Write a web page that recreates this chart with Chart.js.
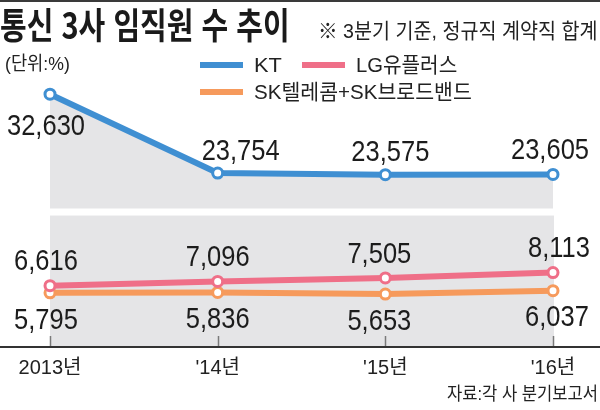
<!DOCTYPE html>
<html lang="ko">
<head>
<meta charset="utf-8">
<title>통신 3사 임직원 수 추이</title>
<script src="https://cdn.jsdelivr.net/npm/chart.js@4.4.1/dist/chart.umd.min.js"></script>
<style>
  html, body { margin: 0; padding: 0; background: #fff; }
  #wrap { position: relative; width: 600px; height: 410px; overflow: hidden;
          font-family: "Liberation Sans", "Noto Sans CJK KR", sans-serif; color: #222; }
  #wrap canvas { position: absolute; left: 0; top: 0; }
  .txt { position: absolute; white-space: nowrap; line-height: 1; }
  #topline { position: absolute; left: 0; top: 0; width: 600px; height: 2px; background: #3a3a3a; }
  #title { left: 0; top: 5px; font-size: 36px; font-weight: bold; color: #1a1a1a;
           font-family: "Noto Sans CJK KR", sans-serif; transform-origin: left top; }
  #note { right: 2px; top: 20px; font-size: 21px; transform-origin: right top; }
  #unit { left: 5px; top: 54px; font-size: 19px; transform-origin: left top; }
  #source { right: 2px; top: 385px; font-size: 18px; transform-origin: right top; }
  .leg { position: absolute; height: 22px; }
  .leg .sw { position: absolute; left: 0; top: 8px; width: 43px; height: 6px; }
  .leg .lb { position: absolute; left: 54px; top: 0; font-size: 21px; line-height: 22px;
             white-space: nowrap; transform-origin: left top; }
</style>
</head>
<body>
<div id="wrap">
  <canvas id="chart" width="600" height="410"></canvas>
  <div id="topline"></div>
  <div id="title" class="txt">통신 3사 임직원 수 추이</div>
  <div id="note" class="txt">※ 3분기 기준, 정규직 계약직 합계</div>
  <div id="unit" class="txt">(단위:%)</div>
  <div id="legend"></div>
  <div id="source" class="txt">자료:각 사 분기보고서</div>
</div>
<script>
// ---------- Datos ----------
const years = ["2013년", "'14년", "'15년", "'16년"];
const seriesNames = ["KT", "LG유플러스", "SK텔레콤+SK브로드밴드"];
const ktStaff = [32630, 23754, 23575, 23605];
const lgStaff = [6616, 7096, 7505, 8113];
const skStaff = [5795, 5836, 5653, 6037];

// ---------- Estilo ----------
const COLORS = ["#3f8fd2", "#ef6f88", "#f69a5c"];
const PANEL_GRAY = "#e5e5e7";
const NUM_FONT = '"Liberation Sans", "Noto Sans CJK KR", sans-serif';

// eje partido: misma escala (~113-115 por px) en los dos tramos
const TOP_MIN = 19763, TOP_MAX = 35357;
const LOW_MIN = -300, LOW_MAX = 15455, LOW_PANEL_TOP = 14650;

// dónde va cada etiqueta de valor (dy respecto al punto, dx de ajuste)
const labelDy = [[30, -24, -24, -26], [-26, -26, -26, -26], [25, 25, 25, 25]];
const labelDx = [[-4, 23, 5, -3], [-4, 0, -6, 6], [-4, 0, -6, 4]];

// ---------- Helpers ----------
function fitWidth(el, target) {
  const w = el.offsetWidth;
  if (w > 0) el.style.transform = "scaleX(" + (target / w) + ")";
}

function buildLegend() {
  const slots = [{ x: 200, y: 54 }, { x: 302, y: 54 }, { x: 200, y: 81 }];
  const widths = [28, 101, 218];
  const box = document.getElementById("legend");
  seriesNames.forEach((name, i) => {
    const item = document.createElement("div");
    item.className = "leg";
    item.style.left = slots[i].x + "px";
    item.style.top = slots[i].y + "px";
    const sw = document.createElement("span");
    sw.className = "sw";
    sw.style.background = COLORS[i];
    const lb = document.createElement("span");
    lb.className = "lb";
    lb.textContent = name;
    item.appendChild(sw);
    item.appendChild(lb);
    box.appendChild(item);
    fitWidth(lb, widths[i]);
  });
}

// ---------- Plugin: paneles, marcas del eje y etiquetas ----------
const brokenAxisDecor = {
  id: "brokenAxisDecor",
  beforeDatasetsDraw(chart) {
    const { ctx, chartArea } = chart;
    const low = chart.scales.yLow;
    const top = low.getPixelForValue(LOW_PANEL_TOP);
    const bottom = low.getPixelForValue(LOW_MIN);
    ctx.save();
    ctx.fillStyle = PANEL_GRAY;
    ctx.fillRect(chartArea.left, top, chartArea.right - chartArea.left + 1, bottom - top);
    // marcas cortas hacia arriba
    const x = chart.scales.x;
    ctx.strokeStyle = "#7a7a7a";
    ctx.lineWidth = 1.5;
    years.forEach((_, i) => {
      const px = Math.round(x.getPixelForValue(i)) + 0.5;
      ctx.beginPath();
      ctx.moveTo(px, chartArea.bottom - 10);
      ctx.lineTo(px, chartArea.bottom);
      ctx.stroke();
    });
    ctx.restore();
  },
  afterDatasetsDraw(chart) {
    const { ctx, chartArea, width } = chart;
    ctx.save();
    // línea base a todo el ancho
    ctx.strokeStyle = "#333";
    ctx.lineWidth = 2;
    ctx.beginPath();
    ctx.moveTo(0, chartArea.bottom + 1);
    ctx.lineTo(width, chartArea.bottom + 1);
    ctx.stroke();

    // etiquetas de valor (Helvetica-ish condensada)
    ctx.fillStyle = "#1c1c1c";
    ctx.font = "30px " + NUM_FONT;
    ctx.textAlign = "center";
    ctx.textBaseline = "alphabetic";
    chart.data.datasets.forEach((ds, d) => {
      const meta = chart.getDatasetMeta(d);
      meta.data.forEach((pt, i) => {
        const txt = ds.data[i].toLocaleString("en-US");
        const cx = pt.x + labelDx[d][i];
        const cy = pt.y + labelDy[d][i];
        ctx.save();
        ctx.translate(cx, cy + 10.8);
        ctx.scale(0.85, 1);
        ctx.fillText(txt, 0, 0);
        ctx.restore();
      });
    });
    ctx.restore();
  },
};

// ---------- Chart ----------
function lineSet(label, data, color, axis, extra) {
  return Object.assign({
    label,
    data,
    yAxisID: axis,
    borderColor: color,
    borderWidth: 6,
    pointRadius: 5,
    pointHoverRadius: 5,
    pointBorderWidth: 3,
    pointBackgroundColor: "#fff",
    pointBorderColor: color,
    tension: 0,
    fill: false,
    clip: false,
  }, extra || {});
}

buildLegend();
fitWidth(document.getElementById("title"), 290);
fitWidth(document.getElementById("note"), 280);
fitWidth(document.getElementById("unit"), 65);
fitWidth(document.getElementById("source"), 151);

new Chart(document.getElementById("chart"), {
  type: "line",
  data: {
    labels: years,
    datasets: [
      lineSet(seriesNames[0], ktStaff, COLORS[0], "yTop", {
        fill: "start",
        backgroundColor: PANEL_GRAY,
      }),
      lineSet(seriesNames[1], lgStaff, COLORS[1], "yLow"),
      lineSet(seriesNames[2], skStaff, COLORS[2], "yLow"),
    ],
  },
  options: {
    responsive: false,
    animation: false,
    devicePixelRatio: 1,
    layout: { padding: { left: 50, right: 47, top: 70, bottom: 20 } },
    plugins: {
      legend: { display: false },
      tooltip: { enabled: false },
    },
    scales: {
      x: {
        type: "category",
        offset: false,
        grid: { display: false, drawTicks: false },
        border: { display: false },
        ticks: {
          autoSkip: false,
          maxRotation: 0,
          padding: 10,
          color: "#222",
          font: { family: NUM_FONT, size: 20 },
        },
      },
      // en una pila vertical el último eje definido queda arriba
      yLow: {
        type: "linear",
        position: "left",
        stack: "broken",
        stackWeight: 137,
        min: LOW_MIN,
        max: LOW_MAX,
        display: false,
      },
      yTop: {
        type: "linear",
        position: "left",
        stack: "broken",
        stackWeight: 138,
        min: TOP_MIN,
        max: TOP_MAX,
        display: false,
      },
    },
  },
  plugins: [brokenAxisDecor],
});
</script>
</body>
</html>
